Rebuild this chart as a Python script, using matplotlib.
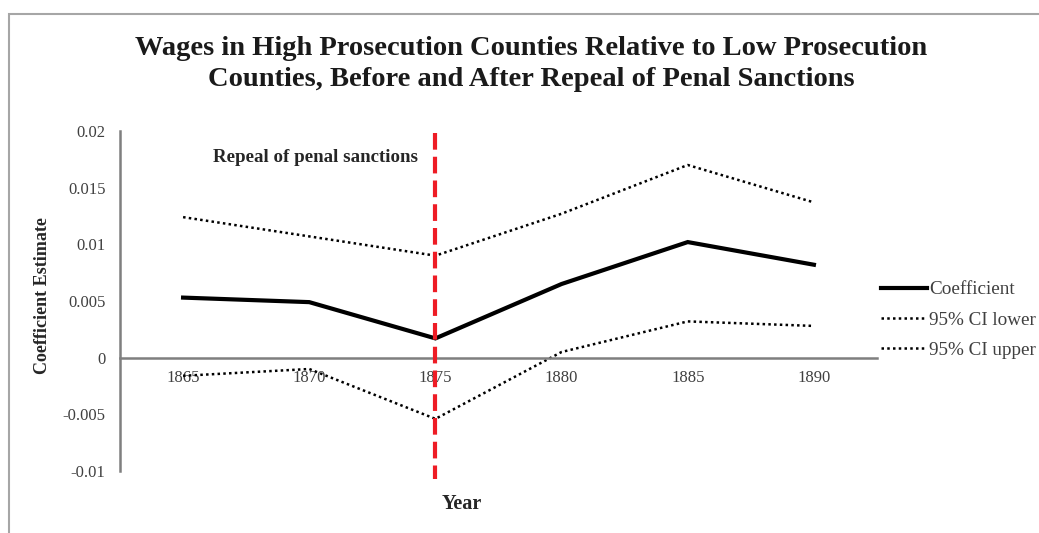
import matplotlib.pyplot as plt
import numpy as np
from matplotlib.patches import Rectangle

# data
years = ['1865', '1870', '1875', '1880', '1885', '1890']
coef = [0.0053, 0.0049, 0.0017, 0.0065, 0.0102, 0.0082]
ci_lower = [-0.0016, -0.0010, -0.0054, 0.0005, 0.0032, 0.0028]
ci_upper = [0.0124, 0.0107, 0.0090, 0.0127, 0.0170, 0.0137]
repeal_year = '1875'
yticks = [-0.01, -0.005, 0, 0.005, 0.01, 0.015, 0.02]
ytick_labels = ['-0.01', '-0.005', '0', '0.005', '0.01', '0.015', '0.02']

plt.rcParams['font.family'] = ['Liberation Serif', 'DejaVu Serif']

W, H = 1039, 533
fig = plt.figure(figsize=(W / 100, H / 100), dpi=100)
ax = fig.add_axes([120 / W, 1 - 471 / H, 757 / W, 340 / H])

x = np.arange(len(years)) + 0.5
dot = (0, (1, 1.3))

ax.plot(x, coef, color='black', lw=3, label='Coefficient', solid_joinstyle='miter')
ax.plot(x, ci_lower, color='black', lw=1.8, linestyle=dot, label='95% CI lower')
ax.plot(x, ci_upper, color='black', lw=1.8, linestyle=dot, label='95% CI upper')

xr = x[years.index(repeal_year)]
ax.plot([xr, xr], [0.0198, -0.0107], color='#ee1c25', lw=3,
        linestyle=(0, (4, 1.7)), clip_on=False, zorder=5)
ax.text(xr - 0.14, 0.0177, 'Repeal of penal sanctions', ha='right', va='center',
        fontsize=13.6, fontweight='bold', color='#262626')

ax.set_xlim(0, 6)
ax.set_ylim(-0.01, 0.02)
ax.set_yticks(yticks)
ax.set_yticklabels(ytick_labels)
ax.set_xticks(x)
ax.set_xticklabels(years)

for s in ['top', 'right']:
    ax.spines[s].set_visible(False)
ax.spines['bottom'].set_position(('data', 0))
ax.spines['bottom'].set_color('#7f7f7f')
ax.spines['bottom'].set_linewidth(1.8)
ax.spines['left'].set_color('#7f7f7f')
ax.spines['left'].set_linewidth(1.8)
ax.tick_params(axis='both', length=0, labelsize=12, labelcolor='#404040')
ax.tick_params(axis='y', pad=10.5)
ax.tick_params(axis='x', pad=9)

fig.text(43 / W, 1 - 296 / H, 'Coefficient Estimate', rotation=90, ha='center',
         va='center', fontsize=13, fontweight='bold', color='#262626')
fig.text(462 / W, 1 - 504 / H, 'Year', ha='center', va='center',
         fontsize=14.5, fontweight='bold', color='#262626')
fig.text(531 / W, 1 - 64 / H,
         'Wages in High Prosecution Counties Relative to Low Prosecution\n'
         'Counties, Before and After Repeal of Penal Sanctions',
         ha='center', va='center', fontsize=20.5, fontweight='bold',
         color='#1a1a1a', linespacing=1.35)

leg = fig.legend(loc='center left', bbox_to_anchor=(881 / W, 1 - 320 / H),
                 frameon=False, fontsize=13.8, handlelength=2.4,
                 handletextpad=0.1, labelspacing=0.67, borderpad=0,
                 borderaxespad=0)
for t in leg.get_texts():
    t.set_color('#404040')

fig.patches.append(Rectangle((9 / W, -0.2), 1.2, 1.2 - 14 / H, transform=fig.transFigure,
                             fill=False, edgecolor='#a6a6a6', lw=1.5))

fig.savefig('out.png', dpi=100)
